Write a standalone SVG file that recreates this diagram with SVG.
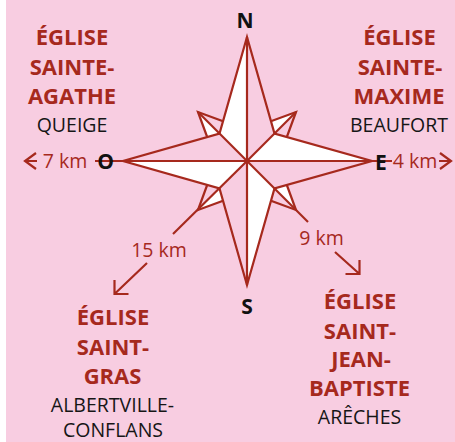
<svg xmlns="http://www.w3.org/2000/svg" width="455" height="442" viewBox="0 0 455 442">
<style>
.bg{fill:#f8cde1}
.ln{fill:none;stroke:#a6291d;stroke-width:2.2;stroke-linecap:butt}
.w{fill:#fff}
.p{fill:#f8cde1}
.ol{fill:none;stroke:#a6291d;stroke-width:2.2;stroke-linejoin:miter}
.t{font-family:"Open Sans","Noto Sans","DejaVu Sans",sans-serif;text-anchor:middle}
.h{font-weight:700;font-size:22px;fill:#a6291d}
.c{font-weight:400;font-size:19.5px;fill:#161616}
.k{font-weight:400;font-size:19.5px;fill:#a6291d}
.d{font-weight:700;font-size:21px;fill:#111}
</style>
<rect class="bg" x="6" y="0" width="449" height="442"/>
<g id="compass">
  <polygon class="w" points="247,161 247,130 296,112"/>
  <polygon class="p" points="247,161 296,112 278,161"/>
  <polygon class="w" points="247,161 278,161 296,210"/>
  <polygon class="p" points="247,161 296,210 247,192"/>
  <polygon class="w" points="247,161 247,192 198,210"/>
  <polygon class="p" points="247,161 198,210 216,161"/>
  <polygon class="w" points="247,161 216,161 198,112"/>
  <polygon class="p" points="247,161 198,112 247,130"/>
  <polygon class="ol" points="247,130 296,112 278,161 296,210 247,192 198,210 216,161 198,112"/>
  <polygon class="w" points="247,161 247,37 219.5,133.5"/>
  <polygon class="p" points="247,161 247,37 274.5,133.5"/>
  <polygon class="w" points="247,161 372,161 274.5,133.5"/>
  <polygon class="p" points="247,161 372,161 274.5,188.5"/>
  <polygon class="w" points="247,161 247,285 274.5,188.5"/>
  <polygon class="p" points="247,161 247,285 219.5,188.5"/>
  <polygon class="w" points="247,161 123,161 219.5,188.5"/>
  <polygon class="p" points="247,161 123,161 219.5,133.5"/>
  <polygon class="ol" points="247,37 274.5,133.5 372,161 274.5,188.5 247,285 219.5,188.5 123,161 219.5,133.5"/>
  <line class="ln" x1="247" y1="37" x2="247" y2="285"/>
  <line class="ln" x1="95" y1="161" x2="392" y2="161"/>
  <line class="ln" x1="247" y1="161" x2="198" y2="112"/>
  <line class="ln" x1="247" y1="161" x2="296" y2="112"/>
  <line class="ln" x1="247" y1="161" x2="173" y2="234"/>
  <line class="ln" x1="247" y1="161" x2="308" y2="222"/>
  <text class="t d" x="245" y="28">N</text>
  <text class="t d" x="247" y="314">S</text>
  <text class="t d" x="105.5" y="168.5">O</text>
  <text class="t d" x="381" y="169.5">E</text>
</g>
<g id="connectors">
  <path class="ln" d="M37,161 H25 M36,153 L25,161 L36,169"/>
  <path class="ln" d="M439,161 H451 M440,153 L451,161 L440,169"/>
  <path class="ln" d="M147,263 L114.5,294 M114.5,280 V294 H128.5"/>
  <path class="ln" d="M335,252 L359.5,274 M359.5,260 V274 H345.5"/>
  <text class="t k" x="65" y="168">7 km</text>
  <text class="t k" x="415" y="168">4 km</text>
  <text class="t k" x="159" y="257">15 km</text>
  <text class="t k" x="321.5" y="245">9 km</text>
</g>
<g id="sainte-agathe">
  <text class="t h" x="72" y="45">ÉGLISE</text>
  <text class="t h" x="72" y="75">SAINTE-</text>
  <text class="t h" x="72" y="103.5">AGATHE</text>
  <text class="t c" x="72" y="131.5">QUEIGE</text>
</g>
<g id="sainte-maxime">
  <text class="t h" x="399.5" y="45">ÉGLISE</text>
  <text class="t h" x="400" y="75">SAINTE-</text>
  <text class="t h" x="399" y="103.5">MAXIME</text>
  <text class="t c" x="399" y="131.5">BEAUFORT</text>
</g>
<g id="saint-gras">
  <text class="t h" x="113" y="325">ÉGLISE</text>
  <text class="t h" x="113" y="355">SAINT-</text>
  <text class="t h" x="112.5" y="384">GRAS</text>
  <text class="t c" x="112.5" y="411.5">ALBERTVILLE-</text>
  <text class="t c" x="113" y="437">CONFLANS</text>
</g>
<g id="saint-jean-baptiste">
  <text class="t h" x="360" y="308.5">ÉGLISE</text>
  <text class="t h" x="360" y="338.5">SAINT-</text>
  <text class="t h" x="361" y="367">JEAN-</text>
  <text class="t h" x="359.5" y="396">BAPTISTE</text>
  <text class="t c" x="359.5" y="424">ARÊCHES</text>
</g>
</svg>
